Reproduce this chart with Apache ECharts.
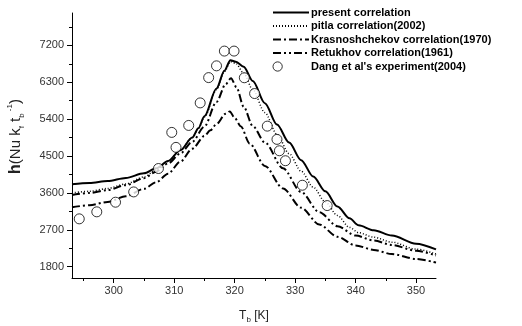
<!DOCTYPE html>
<html>
<head>
<meta charset="utf-8">
<script src="https://cdn.jsdelivr.net/npm/echarts@6/dist/echarts.min.js"></script>
<style>
  html, body { margin: 0; padding: 0; background: #fff; }
  #main { width: 522px; height: 326px; }
</style>
</head>
<body>
<div id="main"></div>
<script>
// axis ticks
var xTicks = [300, 310, 320, 330, 340, 350];
var xMinor = [295, 305, 315, 325, 335, 345];
var yTicks = [1800, 2700, 3600, 4500, 5400, 6300, 7200];
var yMinor = [2250, 3150, 4050, 4950, 5850, 6750, 7650];

// present correlation
var tPresent = [293.1, 296, 299, 302, 305, 307, 309, 311, 313, 314, 315, 317, 318.3, 319.3, 320.2, 321.5, 323, 325, 327, 329, 331, 333, 335, 337, 339, 340.5, 343, 346, 350, 353.3];
var hPresent = [3810, 3840, 3890, 3965, 4080, 4200, 4380, 4640, 4950, 5180, 5470, 6150, 6580, 6840, 6800, 6680, 6330, 5790, 5270, 4830, 4400, 4000, 3640, 3270, 2980, 2810, 2690, 2560, 2360, 2222];

// pitla correlation(2002)
var tPitla = [293.1, 296, 299, 302, 305, 307, 309, 311, 313, 314, 315, 317, 318.3, 319.3, 320.2, 321.5, 323, 325, 327, 329, 331, 333, 335, 337, 339, 340.5, 343, 346, 350, 353.3];
var hPitla = [3600, 3640, 3710, 3820, 3990, 4160, 4370, 4640, 4950, 5170, 5450, 6120, 6560, 6800, 6760, 6520, 6120, 5560, 5030, 4560, 4130, 3740, 3380, 3050, 2760, 2630, 2520, 2400, 2230, 2110];

// Krasnoshchekov correlation(1970)
var tKras = [293.1, 296, 299, 302, 305, 307, 309, 311, 313, 315, 316, 317, 318.5, 319.2, 320, 321, 322.5, 325, 328, 331, 334, 337, 340, 343, 346, 350, 353.3];
var hKras = [3250, 3300, 3380, 3520, 3700, 3860, 4070, 4360, 4680, 4990, 5130, 5280, 5530, 5590, 5430, 5230, 4800, 4260, 3710, 3240, 2830, 2530, 2320, 2210, 2110, 1990, 1900];

// Retukhov correlation(1961)
var tRet = [293.1, 296, 299, 302, 305, 307, 309, 311, 313, 315, 317, 318.5, 319.4, 320.3, 321.5, 323, 325, 328, 331, 334, 337, 340, 343, 346, 350, 353.3];
var hRet = [3550, 3600, 3670, 3790, 3960, 4120, 4320, 4560, 4850, 5220, 5820, 6250, 6400, 6180, 5700, 5230, 4830, 4200, 3620, 3130, 2790, 2560, 2440, 2330, 2190, 2075];

// Dang et al's experiment(2004)
var tExp = [294.3, 297.2, 300.3, 303.3, 307.4, 309.6, 310.3, 312.4, 314.3, 315.7, 317.0, 318.3, 319.9, 321.6, 323.3, 325.4, 327.0, 327.4, 328.4, 331.2, 335.3];
var hExp = [2968, 3139, 3374, 3625, 4196, 5077, 4712, 5247, 5797, 6414, 6701, 7061, 7061, 6410, 6025, 5230, 4907, 4629, 4386, 3788, 3292];

function pairs (xs, ys) {
  return xs.map(function (x, i) { return [x, ys[i]]; });
}

var font = 'Liberation Sans, Arial, sans-serif';
var chart = echarts.init(document.getElementById('main'));

function lineSeries (name, xs, ys, type, width) {
  return {
    name: name,
    type: 'line',
    data: pairs(xs, ys),
    showSymbol: false,
    symbol: 'circle',
    symbolSize: 0,
    smooth: 0.3,
    smoothMonotone: 'x',
    lineStyle: { color: '#000', width: width, type: type },
    itemStyle: { color: '#000' }
  };
}

// legend entries for lines: hide the marker, keep the line
function lineItem (name) {
  return { name: name, itemStyle: { opacity: 0 } };
}

var option = {
  animation: false,
  grid: { left: 72, right: 86, top: 13, bottom: 48, containLabel: false, outerBoundsMode: 'none' },
  legend: {
    orient: 'vertical',
    left: 267,
    top: 2,
    itemWidth: 36,
    itemHeight: 10,
    itemGap: 2.5,
    textStyle: { fontFamily: font, fontSize: 11, fontWeight: 'bold', color: '#000', padding: [0, 0, 0, -3] },
    data: [
      lineItem('present correlation'),
      lineItem('pitla correlation(2002)'),
      lineItem('Krasnoshchekov correlation(1970)'),
      lineItem('Retukhov correlation(1961)'),
      // circle drawn at the left end of the icon box
      {
        name: "Dang et al's experiment(2004)",
        icon: 'path://M36,5M1,5A4.5,4.5,0,1,1,10,5A4.5,4.5,0,1,1,1,5Z',
        itemStyle: { color: '#fff', borderColor: '#000', borderWidth: 1 }
      }
    ]
  },
  xAxis: [{
    type: 'value',
    min: 293.1,
    max: 353.3,
    name: '{n|T}{s|b}{n| [K]}',
    nameLocation: 'middle',
    nameGap: 30,
    nameTextStyle: {
      color: '#222',
      rich: {
        n: { fontFamily: font, fontSize: 12, color: '#222', lineHeight: 16 },
        s: { fontFamily: font, fontSize: 8, color: '#222', verticalAlign: 'bottom', padding: [8, 0, 0, 0] }
      }
    },
    axisLine: { show: true, onZero: false, lineStyle: { color: '#000', width: 1 } },
    axisTick: { show: true, inside: false, length: 5, customValues: xTicks, lineStyle: { color: '#000' } },
    axisLabel: { customValues: xTicks, fontFamily: font, fontSize: 11, color: '#333', margin: 7 },
    splitLine: { show: false }
  }, {
    type: 'value',
    position: 'bottom',
    min: 293.1,
    max: 353.3,
    axisLine: { show: false },
    axisTick: { show: true, length: 3, customValues: xMinor, lineStyle: { color: '#000' } },
    axisLabel: { show: false },
    splitLine: { show: false }
  }],
  yAxis: [{
    type: 'value',
    min: 1525,
    max: 7990,
    name: '{b|h}{n|(Nu k}{s|f}{n| t}{s|b}{p| -1}{n|)}',
    nameLocation: 'middle',
    nameGap: 46,
    nameRotate: 90,
    nameTextStyle: {
      color: '#222',
      padding: [0, 0, 0, 18],
      rich: {
        b: { fontFamily: font, fontSize: 16, fontWeight: 'bold', color: '#222', lineHeight: 20 },
        n: { fontFamily: font, fontSize: 15, color: '#222', lineHeight: 20 },
        s: { fontFamily: font, fontSize: 8, color: '#222', verticalAlign: 'bottom', padding: [10, 0, 0, 0] },
        p: { fontFamily: font, fontSize: 8, color: '#222', verticalAlign: 'top', padding: [0, 0, 10, 0] }
      }
    },
    axisLine: { show: true, onZero: false, lineStyle: { color: '#000', width: 1 } },
    axisTick: { show: true, inside: false, length: 5, customValues: yTicks, lineStyle: { color: '#000' } },
    axisLabel: {
      customValues: yTicks, fontFamily: font, fontSize: 11, color: '#333', margin: 8,
      formatter: function (v) { return String(v); }
    },
    splitLine: { show: false }
  }, {
    type: 'value',
    position: 'left',
    min: 1525,
    max: 7990,
    axisLine: { show: false },
    axisTick: { show: true, length: 3, customValues: yMinor, lineStyle: { color: '#000' } },
    axisLabel: { show: false },
    splitLine: { show: false }
  }],
  series: [
    lineSeries('present correlation', tPresent, hPresent, 'solid', 2),
    lineSeries('pitla correlation(2002)', tPitla, hPitla, [1, 2], 1.5),
    lineSeries('Krasnoshchekov correlation(1970)', tKras, hKras, [8, 3, 2, 3], 2),
    lineSeries('Retukhov correlation(1961)', tRet, hRet, [8, 3, 2, 3, 2, 3], 2),
    {
      name: "Dang et al's experiment(2004)",
      type: 'scatter',
      data: pairs(tExp, hExp),
      symbol: 'circle',
      symbolSize: 10,
      itemStyle: { color: '#fff', borderColor: '#000', borderWidth: 1 },
      z: 3
    }
  ]
};

chart.setOption(option);
</script>
</body>
</html>
